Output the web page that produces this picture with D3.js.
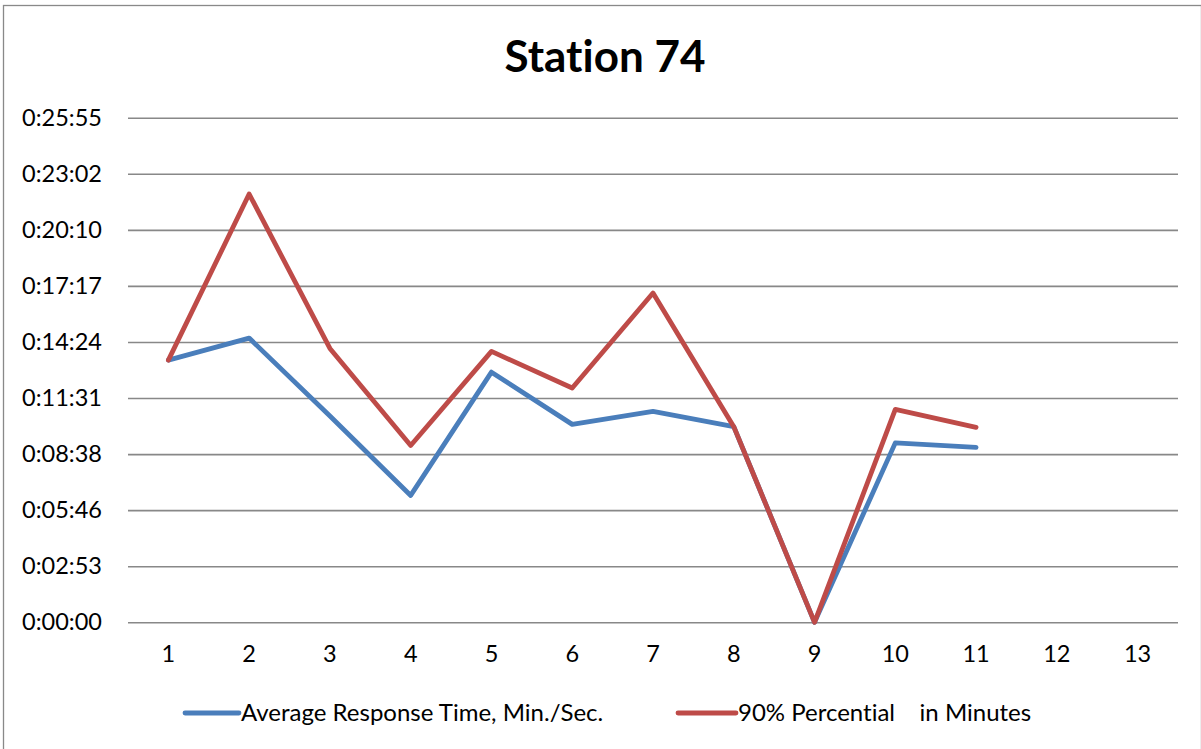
<!DOCTYPE html>
<html>
<head>
<meta charset="utf-8">
<script src="https://cdn.jsdelivr.net/npm/d3@7"></script>
<style>
  html, body { margin: 0; padding: 0; background: #fff; }
  svg { display: block; }
  text { font-family: Lato, "Open Sans", sans-serif; fill: #000; font-variant-ligatures: none; }
</style>
</head>
<body>
<svg id="chart" width="1201" height="749"></svg>
<script>
// ---- data (values in seconds) ----
const categories = ["1","2","3","4","5","6","7","8","9","10","11","12","13"];
const avgResponse = [808, 876, 636, 391, 771, 610, 650, 603, 0, 553, 539, null, null];
const pct90       = [808, 1320, 844, 545, 835, 722, 1015, 603, 0, 656, 601, null, null];
const seriesNames = ["Average Response Time, Min./Sec.", "90% Percential    in Minutes"];
const yTickSeconds = [0, 172.8, 345.6, 518.4, 691.2, 864, 1036.8, 1209.6, 1382.4, 1555.2];
const title = "Station 74";

const colors = ["#4A7EBB", "#BE4B48"];

const svg = d3.select("#chart");
const W = 1201, H = 749;
const plot = { left: 128, right: 1178, top: 117.7, bottom: 622.3 };

// outer border
svg.append("rect").attr("x", 3.5).attr("y", 5.5).attr("width", W - 3).attr("height", H - 3)
  .attr("fill", "#fff").attr("stroke", "#898989").attr("stroke-width", 1.3);

const x = d3.scaleBand().domain(categories).range([plot.left, plot.right]).padding(0);
const y = d3.scaleLinear().domain([0, 1555.2]).range([plot.bottom, plot.top]);

function fmt(s) {
  const t = Math.round(s);
  const h = Math.floor(t / 3600), m = Math.floor((t % 3600) / 60), sec = t % 60;
  return h + ":" + String(m).padStart(2, "0") + ":" + String(sec).padStart(2, "0");
}

// gridlines + y labels via axis
const yAxis = d3.axisLeft(y).tickValues(yTickSeconds).tickFormat(fmt)
  .tickSize(-(plot.right - plot.left)).tickPadding(26);
const gy = svg.append("g").attr("transform", `translate(${plot.left},0)`).call(yAxis);
gy.select(".domain").remove();
gy.selectAll(".tick line").attr("stroke", "#888").attr("stroke-width", 1.6);
gy.selectAll(".tick text").attr("font-size", 23.5).attr("font-family", "Lato, sans-serif").attr("fill", "#000");

// x labels
const xAxis = d3.axisBottom(x).tickSize(0).tickPadding(23);
const gx = svg.append("g").attr("transform", `translate(0,${plot.bottom})`).call(xAxis);
gx.select(".domain").remove();
gx.selectAll(".tick text").attr("font-size", 23.5).attr("font-family", "Lato, sans-serif").attr("fill", "#000");

// lines
const line = d3.line()
  .defined(d => d != null)
  .x((d, i) => x(categories[i]) + x.bandwidth() / 2)
  .y(d => y(d));

[avgResponse, pct90].forEach((vals, k) => {
  svg.append("path")
    .attr("d", line(vals))
    .attr("fill", "none")
    .attr("stroke", colors[k])
    .attr("stroke-width", 4.8)
    .attr("stroke-linejoin", "round")
    .attr("stroke-linecap", "round");
});

// title
svg.append("text").attr("x", 605).attr("y", 72).attr("text-anchor", "middle")
  .attr("font-size", 44).attr("font-weight", "bold").text(title);

// legend
const legendY = 713;
const legendItems = [
  { x1: 185, x2: 239, tx: 241 },
  { x1: 678, x2: 736, tx: 738 }
];
legendItems.forEach((it, k) => {
  svg.append("line").attr("x1", it.x1).attr("x2", it.x2).attr("y1", legendY).attr("y2", legendY)
    .attr("stroke", colors[k]).attr("stroke-width", 4.8).attr("stroke-linecap", "round");
  svg.append("text").attr("x", it.tx).attr("y", legendY).attr("dy", "0.35em")
    .attr("font-size", 24).attr("xml:space", "preserve").style("white-space", "pre")
    .text(seriesNames[k]);
});
</script>
</body>
</html>
